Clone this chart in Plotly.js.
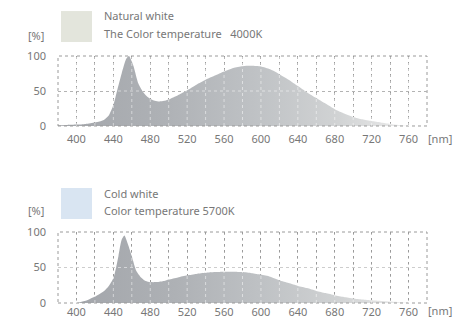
<!DOCTYPE html>
<html>
<head>
<meta charset="utf-8">
<script src="https://cdn.plot.ly/plotly-3.0.1.min.js"></script>
<style>html,body{margin:0;padding:0;background:#fff}#chart{width:466px;height:319px}</style>
</head>
<body>
<div id="chart"></div>
<script>
// Natural white 4000K spectrum
const naturalNm = [380,390,400,410,420,425,430,435,440,444,449,454,457,460,462,467,472,476,480,485,490,495,500,510,520,530,540,550,560,570,580,590,600,610,620,630,640,650,660,670,680,690,700,710,720,730,740,750,760];
const naturalPct = [1,1.5,2,3,5,6.5,9,15,30,50,75,96,100,92,85,61,49,43,39,36,35,36,38,44,51,59,66,72,78,83,85.5,86,85,81,74,66,57,48,40,32,24,18,13,9.5,7,5,3,1.5,0];
// Cold white 5700K spectrum
const coldNm = [400,410,420,430,435,440,443,445.5,449,452,456,460,465,470,475,480,487,495,500,510,520,530,540,550,560,570,580,590,600,610,620,630,640,650,660,670,680,690,700,710,720,730,740,750,760];
const coldPct = [0,3,9,17,24,35,50,66,89,95,82,66,45,36,31,29.5,29.5,31,33,36,39,41,42.5,43.5,44,44,43.5,42,40,37,32,28,24,21,17,14,11,8.5,6.5,5,3.7,2.8,2,1.2,0.5];

const gridNm = [400,420,440,460,480,500,520,540,560,580,600,620,640,660,680,700,720,740,760];
const tickText = ['400','','440','','480','','520','','560','','600','','640','','680','','720','','760'];
const yTicks = [0,50,100];
const titles = ['Natural white','Cold white'];
const subtitles = ['The Color temperature\u00a0\u00a0 4000K','Color temperature 5700K'];
const swatchColors = ['#e3e5dc','#d9e5f2'];

const FONT = {family:'"Noto Sans", sans-serif', size:11, color:'#777777'};
const grad = {type:'horizontal', colorscale:[[0,'#a3a6ab'],[0.3,'#aeb1b5'],[0.55,'#bec1c4'],[0.8,'#d1d3d4'],[1,'#ececec']]};

const traces = [
  {x:naturalNm, y:naturalPct, type:'scatter', mode:'lines', fill:'tozeroy', line:{width:0,shape:'spline',smoothing:0.6}, fillgradient:grad, xaxis:'x', yaxis:'y', hoverinfo:'skip'},
  {x:coldNm, y:coldPct, type:'scatter', mode:'lines', fill:'tozeroy', line:{width:0,shape:'spline',smoothing:0.6}, fillgradient:grad, xaxis:'x2', yaxis:'y2', hoverinfo:'skip'}
];

function xax(anchor, standoff){
  return {range:[380,780], anchor:anchor, tickvals:gridNm, ticktext:tickText, ticks:'', showgrid:true,
    gridcolor:'#9a9a9a', griddash:'dot', gridwidth:1, zeroline:false, showline:false, tickfont:FONT, ticklabelstandoff:standoff, fixedrange:true};
}
function yax(anchor, domain){
  return {range:[0,100], domain:domain, anchor:anchor, tickvals:yTicks, ticks:'', showgrid:true,
    gridcolor:'#9a9a9a', griddash:'dot', gridwidth:1, zeroline:false, showline:false, tickfont:FONT, ticklabelstandoff:11, fixedrange:true};
}

const shapes = [];
const annotations = [];
[['x','y'],['x2','y2']].forEach(([xa,ya],i)=>{
  shapes.push({type:'rect', xref:xa+' domain', yref:ya+' domain', x0:0,x1:1,y0:0,y1:1, line:{color:'#9a9a9a',width:1,dash:'dot'}, layer:'above'});
  gridNm.forEach(v=>shapes.push({type:'line', xref:xa, yref:ya+' domain', x0:v,x1:v,y0:0,y1:1, line:{color:'rgba(255,255,255,0.5)',width:1,dash:'dot'}, layer:'above'}));
  shapes.push({type:'line', xref:xa+' domain', yref:ya, x0:0,x1:1,y0:50,y1:50, line:{color:'rgba(255,255,255,0.5)',width:1,dash:'dot'}, layer:'above'});
});

const sw = [[1.0567,1.182],[0.340,0.4656]];
const tY = [[1.162,1.093],[0.4453,0.3765]];
const pctY = [1.081,0.3737];
const nmY = [0.668,-0.03];
for(let i=0;i<2;i++){
  shapes.push({type:'rect', xref:'paper', yref:'paper', x0:0.0081,x1:0.0921,y0:sw[i][0],y1:sw[i][1], fillcolor:swatchColors[i], line:{width:0}});
  annotations.push({xref:'paper',yref:'paper',x:0.119,y:tY[i][0],xanchor:'left',yanchor:'middle',text:titles[i],showarrow:false,font:FONT});
  annotations.push({xref:'paper',yref:'paper',x:0.119,y:tY[i][1],xanchor:'left',yanchor:'middle',text:subtitles[i],showarrow:false,font:FONT});
  annotations.push({xref:'paper',yref:'paper',x:-0.0596,y:pctY[i],xanchor:'center',yanchor:'middle',text:'[%]',showarrow:false,font:FONT});
  annotations.push({xref:'paper',yref:'paper',x:1.036,y:nmY[i],xanchor:'center',yanchor:'middle',text:'[nm]',showarrow:false,font:FONT});
}

const layout = {
  width:466, height:319, margin:{l:58,r:39,t:56,b:16},
  paper_bgcolor:'#fff', plot_bgcolor:'#fff', showlegend:false, font:FONT,
  xaxis:xax('y',5), yaxis:yax('x',[0.7166,1]),
  xaxis2:xax('y2',1), yaxis2:yax('x2',[0,0.2874]),
  shapes:shapes, annotations:annotations
};
Plotly.newPlot('chart', traces, layout, {staticPlot:true, displayModeBar:false});
</script>
</body>
</html>
